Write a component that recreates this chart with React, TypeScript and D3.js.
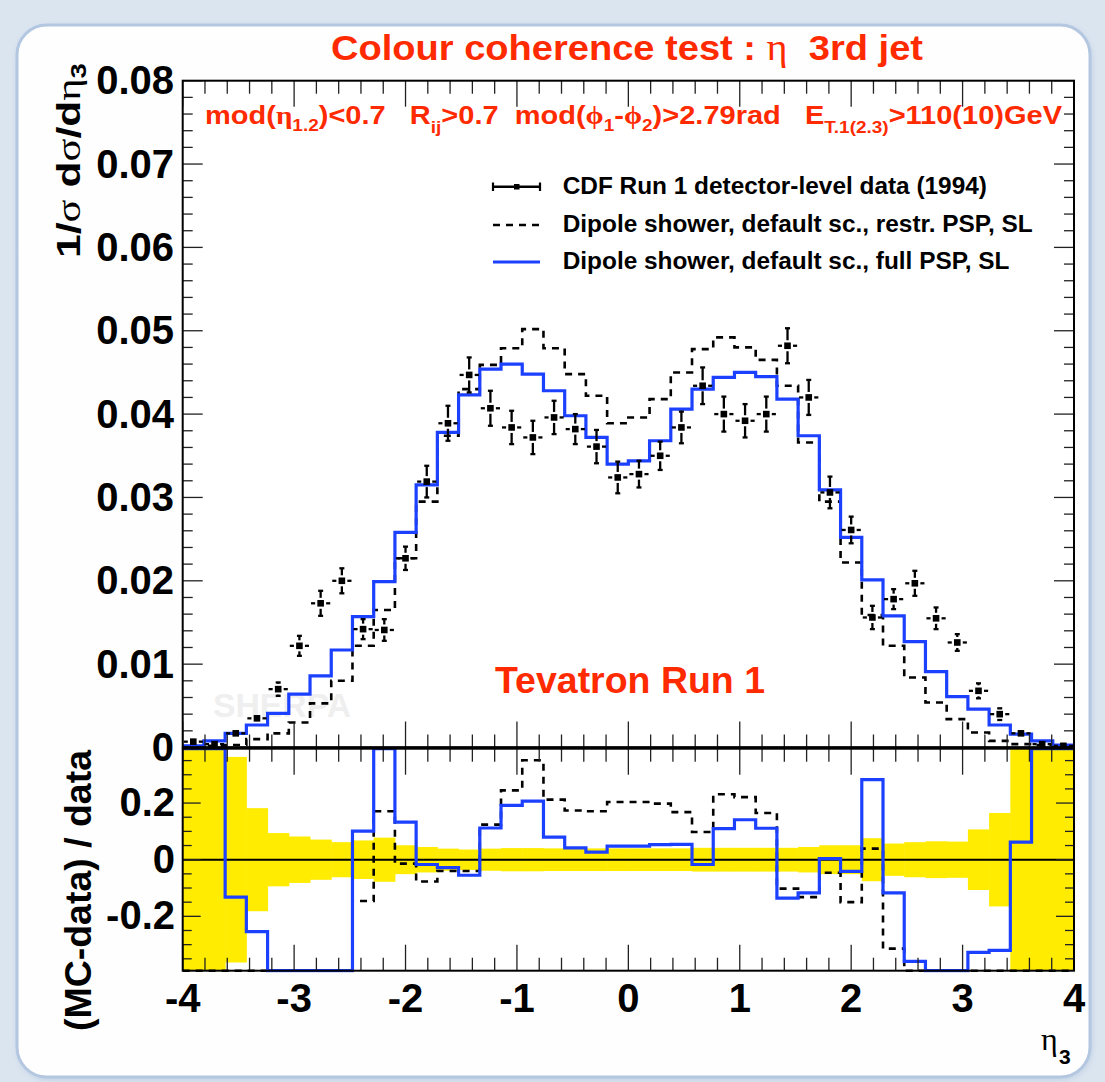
import React from "react";
import * as d3 from "d3";

const W = 1105;
const H = 1082;

// binning of eta_3
const etaMin = -4;
const etaMax = 4;
const nBins = 42;
const etaEdges = d3.range(nBins + 1).map((i) => etaMin + (i * (etaMax - etaMin)) / nBins);

// CDF data (normalised) and errors
const dataVals = [0.0007, 0.0004, 0.0017, 0.0035, 0.0070, 0.0122, 0.0173, 0.0200, 0.0142, 0.0141, 0.0227, 0.0319, 0.0389, 0.0447, 0.0407, 0.0384, 0.0372, 0.0396, 0.0382, 0.0361, 0.0324, 0.0328, 0.0350, 0.0384, 0.0434, 0.0400, 0.0392, 0.0400, 0.0482, 0.0420, 0.0306, 0.0261, 0.0156, 0.0178, 0.0197, 0.0155, 0.0126, 0.0068, 0.0040, 0.0017, 0.0004, 0.0002];
const dataErr = [0.0002, 0.0002, 0.0003, 0.0006, 0.0008, 0.0012, 0.0015, 0.0015, 0.0012, 0.0013, 0.0014, 0.0019, 0.0021, 0.0021, 0.0021, 0.0020, 0.0020, 0.0020, 0.0018, 0.0020, 0.0019, 0.0016, 0.0017, 0.0019, 0.0022, 0.0021, 0.0020, 0.0021, 0.0021, 0.0021, 0.0019, 0.0016, 0.0014, 0.0012, 0.0015, 0.0013, 0.0010, 0.0009, 0.0007, 0.0005, 0.0003, 0.0002];

// Dipole shower, restricted PSP (dashed)
const mcRestr = [0.0001, 0.0002, 0.0003, 0.0010, 0.0017, 0.0030, 0.0053, 0.0080, 0.0122, 0.0165, 0.0227, 0.0295, 0.0374, 0.0430, 0.0459, 0.0479, 0.0502, 0.0479, 0.0448, 0.0422, 0.0389, 0.0396, 0.0418, 0.0450, 0.0478, 0.0492, 0.0480, 0.0465, 0.0434, 0.0366, 0.0295, 0.0222, 0.0159, 0.0122, 0.0084, 0.0054, 0.0034, 0.0018, 0.0008, 0.0004, 0.0003, 0.0002];
// Dipole shower, full PSP (blue)
const mcFull = [0.0002, 0.0008, 0.0017, 0.0027, 0.0041, 0.0064, 0.0086, 0.0117, 0.0157, 0.0199, 0.0258, 0.0315, 0.0378, 0.0423, 0.0454, 0.0460, 0.0448, 0.0428, 0.0398, 0.0372, 0.0340, 0.0344, 0.0368, 0.0406, 0.0430, 0.0444, 0.0450, 0.0445, 0.0418, 0.0374, 0.0309, 0.0252, 0.0201, 0.0158, 0.0127, 0.0091, 0.0061, 0.0046, 0.0027, 0.0016, 0.0008, 0.0003];

// ratio panel (MC-data)/data (off-scale values beyond +-0.4)
const ratioRestr = [-0.5, -0.5, -0.5, -0.5, -0.5, -0.5, -0.5, -0.5, -0.146, 0.171, -0.014, -0.077, -0.040, -0.040, 0.124, 0.245, 0.351, 0.212, 0.174, 0.171, 0.204, 0.204, 0.198, 0.168, 0.098, 0.231, 0.221, 0.165, -0.102, -0.132, -0.046, -0.150, 0.039, -0.314, -0.5, -0.5, -0.5, -0.5, -0.5, -0.5, -0.5, -0.5];
const ratioFull = [0.5, 0.5, -0.132, -0.254, -0.5, -0.5, -0.5, -0.5, 0.101, 0.5, 0.133, -0.017, -0.028, -0.055, 0.112, 0.192, 0.207, 0.080, 0.042, 0.027, 0.048, 0.048, 0.053, 0.054, -0.017, 0.110, 0.141, 0.111, -0.136, -0.117, 0.004, -0.041, 0.283, -0.117, -0.359, -0.5, -0.5, -0.327, -0.320, 0.062, 0.5, 0.5];
// relative data uncertainty (yellow band)
const dataRelErr = [0.5, 0.5, 0.363, 0.182, 0.094, 0.082, 0.071, 0.062, 0.068, 0.078, 0.051, 0.045, 0.039, 0.036, 0.039, 0.041, 0.041, 0.040, 0.040, 0.040, 0.040, 0.040, 0.040, 0.040, 0.042, 0.042, 0.042, 0.042, 0.042, 0.045, 0.051, 0.051, 0.076, 0.057, 0.062, 0.065, 0.064, 0.107, 0.165, 0.5, 0.5, 0.5];

// ticks
const xTickValues = [-4, -3, -2, -1, 0, 1, 2, 3, 4];
const xTickLabels = ["-4", "-3", "-2", "-1", "0", "1", "2", "3", "4"];
const yMainTickValues = [0, 0.01, 0.02, 0.03, 0.04, 0.05, 0.06, 0.07, 0.08];
const yMainTickLabels = ["0", "0.01", "0.02", "0.03", "0.04", "0.05", "0.06", "0.07", "0.08"];
const yRatioTickValues = [-0.2, 0, 0.2];
const yRatioTickLabels = ["-0.2", "0", "0.2"];

const legendLabels = [
  "CDF Run 1 detector-level data (1994)",
  "Dipole shower, default sc., restr. PSP, SL",
  "Dipole shower, default sc., full PSP, SL",
];

const RED = "#ff2a00";
const BLUE = "#1c40ff";
const YELLOW = "#ffec00";
const SANS = "'Liberation Sans', Arial, Helvetica, sans-serif";
const SERIF = "'Liberation Serif', 'DejaVu Serif', serif";

export default function App() {
  const x = d3.scaleLinear().domain([etaMin, etaMax]).range([182.7, 1074]);
  const yM = d3.scaleLinear().domain([0, 0.08]).range([747.5, 80.7]);
  const yR = d3.scaleLinear().domain([-0.392, 0.392]).range([970.7, 748.7]).clamp(true);

  const stepPts = (vals: number[]) =>
    vals.flatMap((v, i) => [
      [etaEdges[i], v] as [number, number],
      [etaEdges[i + 1], v] as [number, number],
    ]);
  const lineM = d3.line<[number, number]>().x((d) => x(d[0])).y((d) => yM(d[1]));
  const lineR = d3.line<[number, number]>().x((d) => x(d[0])).y((d) => yR(d[1]));

  const xL = x(etaMin);
  const xRgt = x(etaMax);
  const mTop = yM(0.08);
  const mBot = yM(0);
  const rTop = yR(0.392);
  const rBot = yR(-0.392);

  const xMinor = d3.range(41).map((i) => etaMin + i * 0.2);
  const yMainMinor = d3.range(41).map((i) => i * 0.002);
  const yRatioMinor = d3.range(-7, 8).map((i) => i * 0.05);

  const tickCol = "#222";

  const xTicks = (top: number, bot: number, key: string) =>
    xMinor.map((v, i) => {
      const major = i % 5 === 0;
      const len = major ? 26 : 13;
      const px = x(v);
      return (
        <g key={key + i}>
          <line x1={px} x2={px} y1={top} y2={top + len} stroke={tickCol} strokeWidth={1.3} />
          <line x1={px} x2={px} y1={bot} y2={bot - len} stroke={tickCol} strokeWidth={1.3} />
        </g>
      );
    });

  const markerHalf = 3.3;
  const gap = 2.2;

  return (
    <svg
      width={W}
      height={H}
      viewBox={`0 0 ${W} ${H}`}
      style={{ position: "absolute", left: 0, top: 0, fontFamily: SANS }}
    >
      <defs>
        <clipPath id="ratioClip">
          <rect x={xL} y={rTop - 2} width={xRgt - xL} height={rBot - rTop + 4} />
        </clipPath>
        <filter id="shadow" x="-5%" y="-5%" width="110%" height="110%">
          <feGaussianBlur stdDeviation="3" />
        </filter>
      </defs>
      {/* background */}
      <rect x={0} y={0} width={W} height={H} fill="#dbe5f0" />
      <rect x={18} y={27} width={1073} height={1052} rx={30} fill="#9fb6d3" opacity={0.6} filter="url(#shadow)" />
      <rect x={17} y={25} width={1073} height={1052} rx={30} fill="#fefefe" stroke="#b3c7e0" strokeWidth={3} />

      {/* plot areas */}
      <rect x={xL} y={mTop} width={xRgt - xL} height={mBot - mTop} fill="#fff" />

      {/* SHERPA watermark */}
      <text x={213} y={716.7} fontSize={33} fontWeight="bold" fill="#efefef" textLength={138} lengthAdjust="spacingAndGlyphs">
        SHERPA
      </text>

      {/* title */}
      <text
        x={331}
        y={60}
        fontSize={35}
        fontWeight="bold"
        fill={RED}
        textLength={592}
        lengthAdjust="spacingAndGlyphs"
        style={{ whiteSpace: "pre" }}
      >
        {"Colour coherence test : "}
        <tspan fontFamily={SERIF} fontWeight="normal" fontSize={37}>η</tspan>
        {"  3rd jet"}
      </text>

      {/* cuts annotation */}
      <text
        x={205}
        y={124}
        fontSize={26}
        fontWeight="bold"
        fill={RED}
        textLength={857}
        lengthAdjust="spacingAndGlyphs"
        style={{ whiteSpace: "pre" }}
      >
        {"mod("}
        <tspan fontFamily={SERIF}>η</tspan>
        <tspan fontSize={17} dy={7}>1.2</tspan>
        <tspan dy={-7}>{")<0.7   R"}</tspan>
        <tspan fontSize={17} dy={9}>ij</tspan>
        <tspan dy={-9}>{">0.7  mod("}</tspan>
        <tspan fontFamily={SERIF}>ϕ</tspan>
        <tspan fontSize={17} dy={7}>1</tspan>
        <tspan dy={-7}>-</tspan>
        <tspan fontFamily={SERIF}>ϕ</tspan>
        <tspan fontSize={17} dy={7}>2</tspan>
        <tspan dy={-7}>{")>2.79rad   E"}</tspan>
        <tspan fontSize={17} dy={9}>T.1(2.3)</tspan>
        <tspan dy={-9}>{">110(10)GeV"}</tspan>
      </text>

      {/* legend */}
      <g>
        <line x1={493} x2={540} y1={186.7} y2={186.7} stroke="#000" strokeWidth={2.4} />
        <line x1={493} x2={493} y1={182.5} y2={191} stroke="#000" strokeWidth={2.2} />
        <line x1={540} x2={540} y1={182.5} y2={191} stroke="#000" strokeWidth={2.2} />
        <rect x={514} y={184} width={5.5} height={5.5} fill="#000" />
        <line x1={493} x2={540} y1={225} y2={225} stroke="#000" strokeWidth={2.6} strokeDasharray="7,6" />
        <line x1={493} x2={540} y1={262} y2={262} stroke={BLUE} strokeWidth={3} />
        {legendLabels.map((t, i) => (
          <text key={t} x={562.7} y={[194.3, 231.7, 269][i]} fontSize={24.4} fontWeight="bold" fill="#000">
            {t}
          </text>
        ))}
      </g>

      {/* Tevatron Run 1 */}
      <text x={495} y={692.7} fontSize={37} fontWeight="bold" fill={RED} textLength={270} lengthAdjust="spacingAndGlyphs">
        Tevatron Run 1
      </text>

      {/* MC curves main panel */}
      <path d={lineM(stepPts(mcRestr)) || ""} fill="none" stroke="#000" strokeWidth={2.6} strokeDasharray="7,6" />
      <path d={lineM(stepPts(mcFull)) || ""} fill="none" stroke={BLUE} strokeWidth={3.2} />

      {/* data points */}
      {dataVals.map((v, i) => {
        const x0 = x(etaEdges[i]);
        const x1 = x(etaEdges[i + 1]);
        const cx = (x0 + x1) / 2;
        const cy = yM(v);
        const yT = yM(v + dataErr[i]);
        const yB = yM(v - dataErr[i]);
        return (
          <g key={"d" + i} stroke="#000" strokeWidth={2.3}>
            <line x1={x0 + 1} x2={cx - markerHalf - gap} y1={cy} y2={cy} />
            <line x1={cx + markerHalf + gap} x2={x1 - 1} y1={cy} y2={cy} />
            {yT < cy - markerHalf - gap && (
              <line x1={cx} x2={cx} y1={yT} y2={cy - markerHalf - gap} />
            )}
            {yB > cy + markerHalf + gap && (
              <line x1={cx} x2={cx} y1={cy + markerHalf + gap} y2={yB} />
            )}
            {yT < cy - markerHalf - gap && <line x1={cx - 2.5} x2={cx + 2.5} y1={yT} y2={yT} />}
            {yB > cy + markerHalf + gap && <line x1={cx - 2.5} x2={cx + 2.5} y1={yB} y2={yB} />}
            <rect x={cx - markerHalf} y={cy - markerHalf} width={markerHalf * 2} height={markerHalf * 2} fill="#000" stroke="none" />
          </g>
        );
      })}

      {/* ratio panel */}
      <rect x={xL} y={rTop} width={xRgt - xL} height={rBot - rTop} fill="#fff" />
      <g clipPath="url(#ratioClip)">
        {dataRelErr.map((e, i) => (
          <rect
            key={"b" + i}
            x={x(etaEdges[i])}
            width={x(etaEdges[i + 1]) - x(etaEdges[i]) + 0.5}
            y={yR(e)}
            height={yR(-e) - yR(e)}
            fill={YELLOW}
          />
        ))}
        <line x1={xL} x2={xRgt} y1={yR(0)} y2={yR(0)} stroke="#000" strokeWidth={2} />
        <path d={lineR(stepPts(ratioRestr)) || ""} fill="none" stroke="#000" strokeWidth={2.6} strokeDasharray="7,6" />
        <path d={lineR(stepPts(ratioFull)) || ""} fill="none" stroke={BLUE} strokeWidth={3.2} />
      </g>

      {/* ticks */}
      {xTicks(mTop, mBot, "mt")}
      {xTicks(rTop, rBot, "rt")}
      {yMainMinor.map((v, i) => {
        const len = i % 5 === 0 ? 20 : 10;
        const py = yM(v);
        return (
          <g key={"ym" + i}>
            <line x1={xL} x2={xL + len} y1={py} y2={py} stroke={tickCol} strokeWidth={1.3} />
            <line x1={xRgt} x2={xRgt - len} y1={py} y2={py} stroke={tickCol} strokeWidth={1.3} />
          </g>
        );
      })}
      {yRatioMinor.map((v, i) => {
        const len = (i - 7) % 4 === 0 ? 18 : 9;
        const py = yR(v);
        return (
          <g key={"yr" + i}>
            <line x1={xL} x2={xL + len} y1={py} y2={py} stroke={tickCol} strokeWidth={1.3} />
            <line x1={xRgt} x2={xRgt - len} y1={py} y2={py} stroke={tickCol} strokeWidth={1.3} />
          </g>
        );
      })}

      {/* frames */}
      <rect x={xL} y={mTop} width={xRgt - xL} height={mBot - mTop} fill="none" stroke="#000" strokeWidth={2} />
      <rect x={xL} y={rTop} width={xRgt - xL} height={rBot - rTop} fill="none" stroke="#000" strokeWidth={2} />
      <line x1={xL} x2={xRgt} y1={mBot} y2={mBot} stroke="#000" strokeWidth={2.4} />

      {/* tick labels */}
      {yMainTickValues.map((v, i) => (
        <text key={"yml" + i} x={174} y={yM(v) + 13.5} fontSize={40} fontWeight="bold" textAnchor="end" fill="#000">
          {yMainTickLabels[i]}
        </text>
      ))}
      {yRatioTickValues.map((v, i) => (
        <text key={"yrl" + i} x={175} y={yR(v) + 13} fontSize={40} fontWeight="bold" textAnchor="end" fill="#000">
          {yRatioTickLabels[i]}
        </text>
      ))}
      {xTickValues.map((v, i) => (
        <text key={"xl" + i} x={x(v)} y={1012} fontSize={40} fontWeight="bold" textAnchor="middle" fill="#000">
          {xTickLabels[i]}
        </text>
      ))}

      {/* axis titles */}
      <text
        transform="translate(80,258) rotate(-90)"
        fontSize={34}
        fontWeight="bold"
        fill="#000"
        textLength={195}
        lengthAdjust="spacingAndGlyphs"
      >
        {"1/"}
        <tspan fontFamily={SERIF} fontWeight="normal">σ</tspan>
        {" d"}
        <tspan fontFamily={SERIF} fontWeight="normal">σ</tspan>
        {"/d"}
        <tspan fontFamily={SERIF} fontWeight="normal">η</tspan>
        <tspan fontSize={22} dy={6}>3</tspan>
      </text>
      <text
        transform="translate(91,1031) rotate(-90)"
        fontSize={36}
        fontWeight="bold"
        fill="#000"
        textLength={281}
        lengthAdjust="spacingAndGlyphs"
      >
        (MC-data) / data
      </text>
      <text x={1041} y={1050} fontSize={32} fontFamily={SERIF} fill="#000">
        η
      </text>
      <text x={1059} y={1064} fontSize={21} fontWeight="bold" fill="#000">
        3
      </text>
    </svg>
  );
}
